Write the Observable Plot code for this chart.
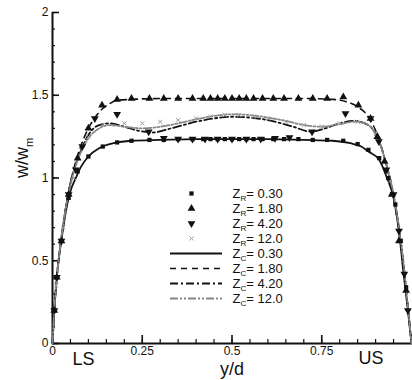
<!DOCTYPE html>
<html>
<head>
<meta charset="utf-8">
<script src="https://cdn.jsdelivr.net/npm/d3@7"></script>
<script src="https://cdn.jsdelivr.net/npm/@observablehq/plot@0.6"></script>
<style>
  html, body { margin: 0; padding: 0; background: #fff; }
  #chart svg { display: block; }
</style>
</head>
<body>
<div id="chart"></div>
<script>
// ---------- data ----------
// computational curves (lines)
const xC030 = [0, 0.005, 0.012, 0.02, 0.03, 0.04, 0.05, 0.065, 0.08, 0.1, 0.13, 0.17, 0.22, 0.3, 0.4, 0.5, 0.6, 0.7, 0.78, 0.83, 0.86, 0.88, 0.91, 0.93, 0.95, 0.965, 0.978, 0.99, 1.0];
const vC030 = [0, 0.2, 0.4, 0.55, 0.7, 0.83, 0.92, 1.0, 1.07, 1.13, 1.18, 1.21, 1.225, 1.23, 1.235, 1.235, 1.235, 1.23, 1.225, 1.21, 1.19, 1.16, 1.11, 1.01, 0.88, 0.68, 0.42, 0.2, 0];

const xC180 = [0, 0.005, 0.012, 0.02, 0.03, 0.045, 0.06, 0.08, 0.1, 0.12, 0.14, 0.16, 0.18, 0.22, 0.3, 0.5, 0.7, 0.78, 0.82, 0.85, 0.88, 0.905, 0.925, 0.94, 0.955, 0.97, 0.985, 1.0];
const vC180 = [0, 0.2, 0.4, 0.56, 0.72, 0.92, 1.06, 1.2, 1.3, 1.37, 1.42, 1.45, 1.47, 1.475, 1.48, 1.48, 1.48, 1.475, 1.46, 1.43, 1.37, 1.26, 1.12, 0.98, 0.82, 0.6, 0.32, 0];

const xC420 = [0, 0.005, 0.012, 0.02, 0.03, 0.045, 0.06, 0.08, 0.1, 0.13, 0.16, 0.2, 0.24, 0.28, 0.33, 0.4, 0.45, 0.5, 0.55, 0.6, 0.67, 0.72, 0.76, 0.8, 0.84, 0.87, 0.89, 0.91, 0.93, 0.95, 0.965, 0.98, 0.99, 1.0];
const vC420 = [0, 0.2, 0.4, 0.56, 0.72, 0.92, 1.05, 1.17, 1.26, 1.32, 1.33, 1.31, 1.285, 1.275, 1.3, 1.34, 1.36, 1.37, 1.365, 1.35, 1.31, 1.28, 1.3, 1.33, 1.345, 1.33, 1.3, 1.22, 1.08, 0.9, 0.7, 0.44, 0.22, 0];

const xC120 = [0, 0.005, 0.012, 0.02, 0.03, 0.045, 0.06, 0.08, 0.1, 0.13, 0.16, 0.2, 0.25, 0.3, 0.35, 0.4, 0.45, 0.5, 0.55, 0.6, 0.65, 0.7, 0.75, 0.8, 0.84, 0.87, 0.89, 0.91, 0.93, 0.95, 0.965, 0.98, 0.99, 1.0];
const vC120 = [0, 0.2, 0.4, 0.56, 0.72, 0.91, 1.04, 1.16, 1.24, 1.3, 1.32, 1.31, 1.3, 1.31, 1.33, 1.355, 1.375, 1.385, 1.38, 1.365, 1.345, 1.32, 1.31, 1.325, 1.34, 1.33, 1.3, 1.22, 1.08, 0.9, 0.7, 0.44, 0.22, 0];

// experimental points (markers)
const xR030 = [0.005, 0.012, 0.025, 0.045, 0.07, 0.1, 0.14, 0.18, 0.22, 0.27, 0.31, 0.35, 0.39, 0.42, 0.44, 0.46, 0.48, 0.5, 0.52, 0.54, 0.56, 0.585, 0.615, 0.645, 0.685, 0.725, 0.765, 0.81, 0.85, 0.88, 0.91, 0.935, 0.955, 0.97, 0.985];
const vR030 = [0.2, 0.4, 0.62, 0.88, 1.04, 1.13, 1.19, 1.215, 1.225, 1.23, 1.23, 1.235, 1.235, 1.235, 1.235, 1.235, 1.235, 1.235, 1.235, 1.235, 1.235, 1.235, 1.235, 1.235, 1.235, 1.23, 1.23, 1.225, 1.205, 1.17, 1.12, 1.0, 0.84, 0.62, 0.34];

const xR180 = [0.005, 0.012, 0.025, 0.045, 0.07, 0.1, 0.138, 0.18, 0.22, 0.27, 0.31, 0.35, 0.39, 0.42, 0.44, 0.46, 0.48, 0.5, 0.52, 0.54, 0.56, 0.585, 0.615, 0.645, 0.685, 0.725, 0.765, 0.81, 0.852, 0.886, 0.905, 0.925, 0.945, 0.965, 0.985];
const vR180 = [0.2, 0.4, 0.62, 0.9, 1.12, 1.3, 1.44, 1.475, 1.48, 1.48, 1.48, 1.48, 1.48, 1.48, 1.48, 1.48, 1.48, 1.48, 1.48, 1.48, 1.48, 1.48, 1.48, 1.48, 1.48, 1.48, 1.48, 1.49, 1.44, 1.36, 1.25, 1.1, 0.9, 0.62, 0.32];

const xR420 = [0.005, 0.012, 0.025, 0.045, 0.065, 0.083, 0.118, 0.18, 0.268, 0.31, 0.35, 0.39, 0.425, 0.46, 0.5, 0.54, 0.58, 0.62, 0.66, 0.723, 0.816, 0.886, 0.909, 0.93, 0.95, 0.965, 0.98, 0.99];
const vR420 = [0.2, 0.4, 0.62, 0.9, 1.05, 1.19, 1.36, 1.385, 1.28, 1.24, 1.235, 1.235, 1.235, 1.235, 1.235, 1.235, 1.235, 1.24, 1.245, 1.28, 1.39, 1.36, 1.22, 1.05, 0.9, 0.68, 0.42, 0.2];

const xR120 = [0.01, 0.03, 0.06, 0.1, 0.14, 0.2, 0.25, 0.3, 0.35, 0.4, 0.44, 0.48, 0.52, 0.56, 0.6, 0.65, 0.7, 0.75, 0.8, 0.85, 0.9, 0.94, 0.97];
const vR120 = [0.35, 0.7, 1.0, 1.25, 1.32, 1.33, 1.33, 1.34, 1.35, 1.36, 1.37, 1.38, 1.38, 1.37, 1.36, 1.34, 1.32, 1.31, 1.33, 1.34, 1.25, 0.98, 0.62];

// axes / ticks / labels
const yMajor = [0, 0.5, 1, 1.5, 2];
const yMinor = d3.range(0, 2.0001, 0.1);
const xMajor = [0, 0.25, 0.5, 0.75];
const xMinor = d3.range(0, 1.0001, 0.05);
const legendLabels = ["Z_R= 0.30", "Z_R= 1.80", "Z_R= 4.20", "Z_R= 12.0", "Z_C= 0.30", "Z_C= 1.80", "Z_C= 4.20", "Z_C= 12.0"];

// ---------- build ----------
const W = 412, H = 380, mL = 52, mR = 1, mT = 12, mB = 37;
const pw = W - mL - mR, ph = H - mT - mB;

const triangleDown = {
  draw(ctx, size) {
    const a = Math.sqrt(4 * size / Math.sqrt(3));
    const h = a * Math.sqrt(3) / 2;
    ctx.moveTo(0, 2 * h / 3);
    ctx.lineTo(-a / 2, -h / 3);
    ctx.lineTo(a / 2, -h / 3);
    ctx.closePath();
  }
};

const zip = (xs, vs) => xs.map((x, i) => ({x, v: vs[i]}));
const C030 = zip(xC030, vC030), C180 = zip(xC180, vC180), C420 = zip(xC420, vC420), C120 = zip(xC120, vC120);
const R030 = zip(xR030, vR030), R180 = zip(xR180, vR180), R420 = zip(xR420, vR420), R120 = zip(xR120, vR120);

const styles = {
  sq: {symbol: "square", fill: "#111", r: 2.4},
  tu: {symbol: "triangle", fill: "#111", r: 2.9},
  td: {symbol: triangleDown, fill: "#111", r: 2.9},
  gx: {symbol: "times", stroke: "#999", fill: "none", r: 2.0, strokeWidth: 1}
};
const lines = [
  {stroke: "#111", strokeWidth: 1.8},
  {stroke: "#111", strokeWidth: 1.6, strokeDasharray: "6,5"},
  {stroke: "#111", strokeWidth: 1.8, strokeDasharray: "8,3,2,3"},
  {stroke: "#888", strokeWidth: 1.8, strokeDasharray: "8,2,2,2,2,2"}
];

const rowY = i => 193 + 15 * i;
const legendMarks = [];
const symKeys = ["sq", "tu", "td", "gx"];
legendLabels.forEach((lab, i) => {
  if (i < 4) {
    legendMarks.push(Plot.dot([0], {frameAnchor: "top-left", dx: 191 - mL, dy: rowY(i) - mT, ...styles[symKeys[i]]}));
  } else {
    legendMarks.push(Plot.ruleY([0], {y: null, dy: rowY(i) - (mT + ph / 2), insetLeft: 170 - mL, insetRight: (W - mR) - 222, ...lines[i - 4]}));
  }
  legendMarks.push(Plot.text([lab], {frameAnchor: "top-left", dx: 232 - mL, dy: rowY(i) - mT, text: d => d, textAnchor: "start", lineAnchor: "middle", fontSize: 13, fill: "#111"}));
});

const chart = Plot.plot({
  width: W, height: H,
  marginLeft: mL, marginRight: mR, marginTop: mT, marginBottom: mB,
  style: {fontFamily: "'Liberation Sans', Arial, sans-serif", background: "#fff", color: "#111"},
  x: {domain: [0, 1]},
  y: {domain: [0, 2]},
  marks: [
    Plot.axisY(yMajor, {tickSize: 0, tickPadding: 4, fontSize: 12, tickFormat: d => String(d), label: null}),
    Plot.axisX(xMajor, {tickSize: 0, tickPadding: 3, fontSize: 12, tickFormat: d => String(d), label: null}),
    Plot.tickY(yMinor, {y: d => d, insetRight: pw - 3, stroke: "#111", strokeWidth: 1.2}),
    Plot.tickY(yMajor, {y: d => d, insetRight: pw - 7, stroke: "#111", strokeWidth: 1.6}),
    Plot.tickX(xMinor, {x: d => d, insetTop: ph - 4, stroke: "#111", strokeWidth: 1.2}),
    Plot.tickX(xMajor.slice(1), {x: d => d, insetTop: ph - 8, stroke: "#111", strokeWidth: 1.6}),
    Plot.ruleX([0], {stroke: "#111", strokeWidth: 2}),
    Plot.ruleY([0], {stroke: "#111", strokeWidth: 2}),
    Plot.line(C030, {x: "x", y: "v", curve: "monotone-x", ...lines[0]}),
    Plot.line(C180, {x: "x", y: "v", curve: "monotone-x", ...lines[1]}),
    Plot.line(C420, {x: "x", y: "v", curve: "monotone-x", ...lines[2]}),
    Plot.line(C120, {x: "x", y: "v", curve: "monotone-x", ...lines[3]}),
    Plot.dot(R120, {x: "x", y: "v", ...styles.gx}),
    Plot.dot(R030, {x: "x", y: "v", ...styles.sq}),
    Plot.dot(R180, {x: "x", y: "v", ...styles.tu}),
    Plot.dot(R420, {x: "x", y: "v", ...styles.td}),
    ...legendMarks,
    Plot.text(["w/w_m"], {frameAnchor: "left", dx: -30, rotate: -90, text: d => d, fontSize: 18, fill: "#111"}),
    Plot.text(["y/d"], {frameAnchor: "bottom", dy: 31, text: d => d, fontSize: 18, fill: "#111"}),
    Plot.text(["LS"], {frameAnchor: "bottom-left", dx: 20, dy: 21, text: d => d, fontSize: 18, fill: "#111"}),
    Plot.text(["US"], {frameAnchor: "bottom-right", dx: -28, dy: 20, text: d => d, fontSize: 18, fill: "#111"})
  ]
});

// subscripts: "A_b..." -> A with subscript b
d3.select(chart).selectAll("text").each(function () {
  const t = this.textContent;
  const m = /^([^_]*)_(\w)(.*)$/.exec(t);
  if (!m) return;
  const el = d3.select(this);
  const fs = parseFloat(el.attr("font-size") || this.parentNode.getAttribute("font-size") || 13);
  el.text(null);
  el.append("tspan").text(m[1]);
  el.append("tspan").attr("font-size", fs * 0.62).attr("dy", fs * 0.28).text(m[2]);
  if (m[3]) el.append("tspan").attr("dy", -fs * 0.28).text(m[3]);
});

document.getElementById("chart").appendChild(chart);
</script>
</body>
</html>
